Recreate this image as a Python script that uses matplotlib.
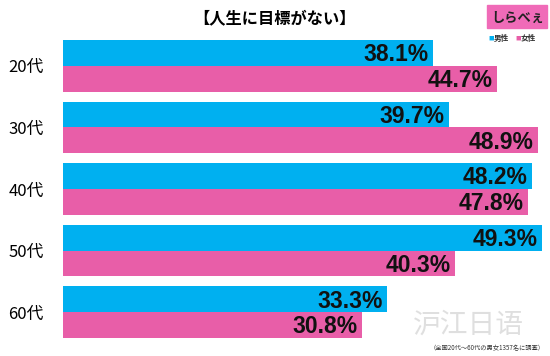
import numpy as np
import matplotlib.pyplot as plt
from matplotlib.patches import Rectangle

plt.rcParams['font.family'] = ['Noto Sans CJK JP', 'DejaVu Sans']

# data
ages = ['20代', '30代', '40代', '50代', '60代']
male = [38.1, 39.7, 48.2, 49.3, 33.3]
female = [44.7, 48.9, 47.8, 40.3, 30.8]

c_male = '#00b0f0'
c_female = '#e85ea8'

fig = plt.figure(figsize=(5.5, 3.56), dpi=100)
ax = fig.add_axes([63 / 550, 1 - 338 / 356, 486 / 550, 298 / 356])

h = 0.42
y = np.arange(len(ages))
ax.barh(y - h / 2, male, height=h, color=c_male)
ax.barh(y + h / 2, female, height=h, color=c_female)

for yi, v in zip(y - h / 2, male):
    ax.text(v - 0.45, yi + 0.03, f'{v:.1f}%', ha='right', va='center',
            fontsize=16.5, fontweight='bold', family='Liberation Sans', color='#111111')
for yi, v in zip(y + h / 2, female):
    ax.text(v - 0.45, yi + 0.03, f'{v:.1f}%', ha='right', va='center',
            fontsize=16.5, fontweight='bold', family='Liberation Sans', color='#111111')

ax.set_xlim(0, 50)
ax.set_ylim(len(ages) - 1 + h, -h)
ax.set_yticks(y)
ax.set_yticklabels(ages, fontsize=12)
ax.tick_params(axis='y', length=0, pad=14)
ax.set_xticks([])
for s in ax.spines.values():
    s.set_visible(False)

# title
fig.text(275 / 550, 1 - 18 / 356, '【人生に目標がない】', ha='center', va='center',
         fontsize=11.7, fontweight='bold')

# logo + legend
fig.patches.append(Rectangle((487 / 550, 1 - 28 / 356), 60 / 550, 23 / 356,
                             transform=fig.transFigure, color='#f06bb8'))
fig.text(518 / 550, 1 - 18 / 356, 'しらべぇ', ha='center', va='center',
         fontsize=9.5, fontweight='bold', color='#222222')
fig.text(488 / 550, 1 - 38.5 / 356, '■', ha='left', va='center', fontsize=4, color=c_male)
fig.text(494 / 550, 1 - 38 / 356, '男性', ha='left', va='center', fontsize=5.5,
         fontweight='bold', color='#333333')
fig.text(515 / 550, 1 - 38.5 / 356, '■', ha='left', va='center', fontsize=4, color=c_female)
fig.text(521 / 550, 1 - 38 / 356, '女性', ha='left', va='center', fontsize=5.5,
         fontweight='bold', color='#333333')

# watermark and note
fig.text(468 / 550, 1 - 325 / 356, '沪江日语', ha='center', va='center',
         fontsize=20, color='#d8d8d8', alpha=0.8)
fig.text(545 / 550, 1 - 348 / 356, '（全国20代～60代の男女1357名に調査）', ha='right',
         va='center', fontsize=4.5, color='#333333')

fig.savefig('out.png', dpi=100)
